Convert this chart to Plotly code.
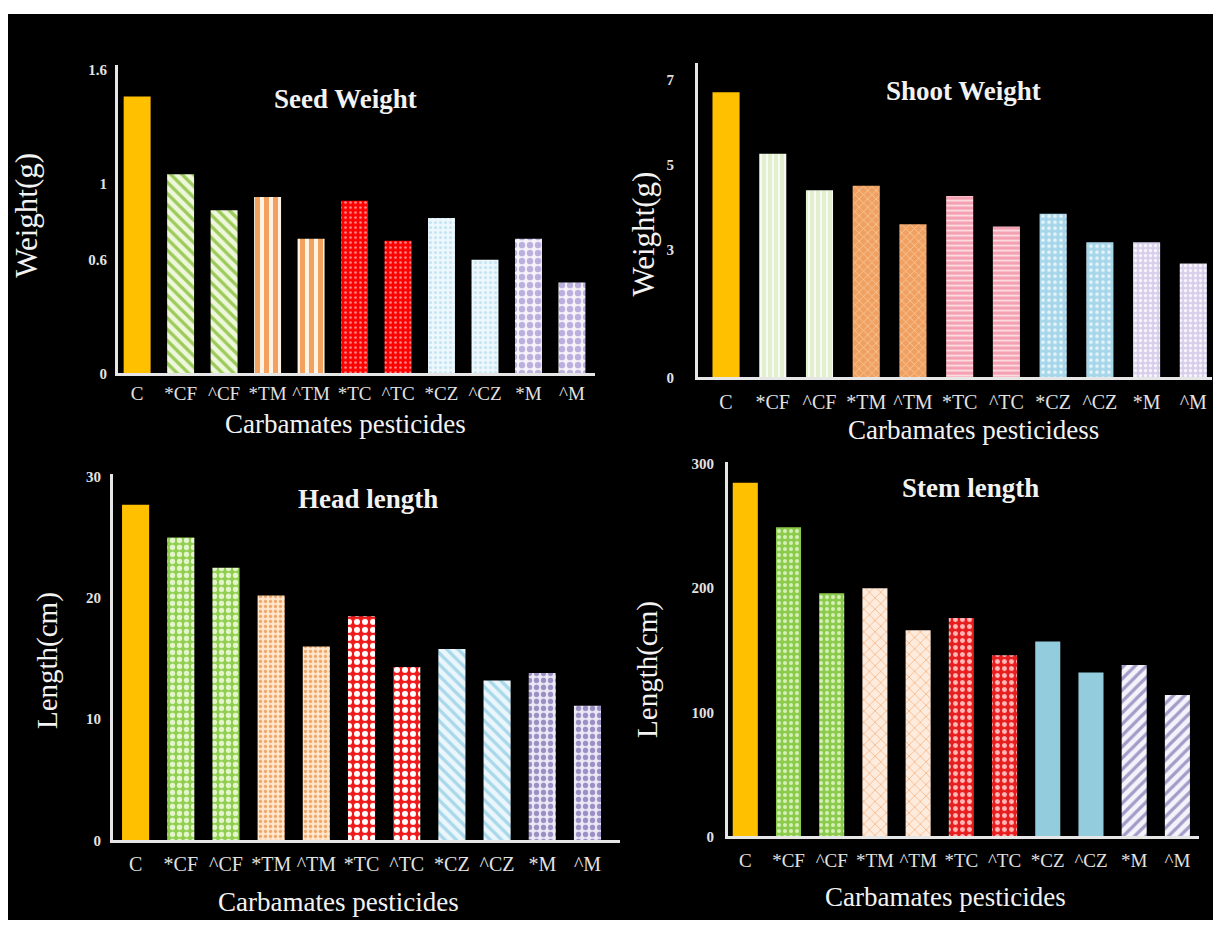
import plotly.graph_objects as go

# ---- data -------------------------------------------------------------
categories = ["C", "*CF", "^CF", "*TM", "^TM", "*TC", "^TC", "*CZ", "^CZ", "*M", "^M"]

seed_weight = [1.46, 1.05, 0.86, 0.93, 0.71, 0.91, 0.70, 0.82, 0.60, 0.71, 0.48]
shoot_weight = [6.71, 5.26, 4.40, 4.51, 3.60, 4.27, 3.55, 3.85, 3.18, 3.18, 2.68]
head_length = [27.7, 25.0, 22.5, 20.2, 16.0, 18.5, 14.3, 15.8, 13.2, 13.8, 11.1]
stem_length = [285, 249, 196, 200, 166, 176, 146, 157, 132, 138, 114]

seed_ticks = [0, 0.6, 1, 1.6]
shoot_ticks = [0, 3, 5, 7]
head_ticks = [0, 10, 20, 30]
stem_ticks = [0, 100, 200, 300]

# ---- canvas -----------------------------------------------------------
W, H = 1220, 936
SERIF = "Liberation Serif, Times New Roman, serif"
GOLD = "#FFC000"

# bar groups: control, then the five pesticide pairs (* and ^)
GROUPS = [[0], [1, 2], [3, 4], [5, 6], [7, 8], [9, 10]]


def fx(p):
    return p / W


def fy(p):
    return 1 - p / H


# pattern style per group: (shape, pattern colour, fill colour, size, solidity)
seed_style = [
    ("", GOLD, GOLD, 6, 0.3),
    ("\\", "#9CCB5A", "#EEF7DC", 8, 0.42),
    ("|", "#F2A25E", "#FFF3E6", 9, 0.55),
    (".", "#FF8A8A", "#FF0000", 5, 0.22),
    (".", "#C4E5F3", "#EEF8FC", 5, 0.3),
    (".", "#BBB0DD", "#F6F3FB", 8, 0.5),
]
shoot_style = [
    ("", GOLD, GOLD, 6, 0.3),
    ("|", "#FFFFFF", "#E2F0D0", 6, 0.25),
    ("x", "#F8CBA0", "#F0A060", 6, 0.25),
    ("-", "#FCE0E6", "#F4A0B2", 5, 0.35),
    (".", "#E6F4FA", "#A6D6EA", 6, 0.3),
    (".", "#F8F6FC", "#D6CEEA", 5, 0.35),
]
head_style = [
    ("", GOLD, GOLD, 6, 0.3),
    (".", "#E4F4CC", "#8FCF4E", 7, 0.45),
    (".", "#F0A868", "#FFE6CC", 5, 0.35),
    (".", "#FFFFFF", "#F01818", 8, 0.45),
    ("\\", "#A8D8EA", "#EAF6FB", 8, 0.4),
    (".", "#9A90C4", "#ECE8F6", 7, 0.45),
]
stem_style = [
    ("", GOLD, GOLD, 6, 0.3),
    (".", "#D8F0B8", "#8ACB4C", 6, 0.35),
    ("x", "#F3A66A", "#FDEBDD", 8, 0.15),
    (".", "#FFB8B8", "#E81E1E", 7, 0.4),
    ("", "#93CDDD", "#93CDDD", 6, 0.3),
    ("/", "#A49CC8", "#F4F2FA", 8, 0.4),
]

# panel geometry in pixels
panels = [
    dict(vals=seed_weight, ticks=seed_ticks, style=seed_style, bw=0.62,
         xd=(118, 595), yd=(373, 60), xr=(-0.44, 10.53), ytop=1.626,
         ystand=5, xstand=1, xfs=19, title="Seed Weight", tpos=(345, 94),
         ytitle="Weight(g)", ytpos=(27, 213), yfs=31,
         xtitle="Carbamates pesticides", xtpos=(345, 424)),
    dict(vals=shoot_weight, ticks=shoot_ticks, style=shoot_style, bw=0.58,
         xd=(698, 1212), yd=(377, 58), xr=(-0.6, 10.4), ytop=7.394,
         ystand=18, xstand=5, xfs=20, title="Shoot Weight", tpos=(963, 86),
         ytitle="Weight(g)", ytpos=(644, 232), yfs=31,
         xtitle="Carbamates pesticidess", xtpos=(973, 430)),
    dict(vals=head_length, ticks=head_ticks, style=head_style, bw=0.60,
         xd=(113, 620), yd=(847, 475), xr=(-0.5, 10.72), ytop=30.24,
         ystand=6, xstand=4, xfs=20, title="Head length", tpos=(368, 500),
         ytitle="Length(cm)", ytpos=(47, 665), yfs=29,
         xtitle="Carbamates pesticides", xtpos=(338, 910)),
    dict(vals=stem_length, ticks=stem_ticks, style=stem_style, bw=0.58,
         xd=(728, 1199), yd=(843, 463), xr=(-0.4, 10.5), ytop=301.6,
         ystand=8, xstand=5, xfs=19, title="Stem length", tpos=(970, 489),
         ytitle="Length(cm)", ytpos=(648, 673), yfs=29,
         xtitle="Carbamates pesticides", xtpos=(945, 905)),
]

fig = go.Figure()
annotations = []
layout = {}

for i, p in enumerate(panels, start=1):
    sfx = "" if i == 1 else str(i)
    for idx, (shape, fg, bg, size, solid) in zip(GROUPS, p["style"]):
        fig.add_trace(go.Bar(
            x=[categories[k] for k in idx],
            y=[p["vals"][k] for k in idx],
            xaxis="x" + sfx, yaxis="y" + sfx,
            width=p["bw"],
            marker=dict(
                color=bg,
                line=dict(width=0),
                pattern=dict(shape=shape, fgcolor=fg, size=size,
                             solidity=solid, fillmode="overlay", fgopacity=1),
            ),
            showlegend=False,
            hoverinfo="x+y",
        ))
    layout["xaxis" + sfx] = dict(
        domain=[fx(p["xd"][0]), fx(p["xd"][1])],
        anchor="y" + sfx, type="category", range=list(p["xr"]),
        categoryorder="array", categoryarray=categories,
        showline=True, linecolor="#E6E6E6", linewidth=3,
        showgrid=False, zeroline=False, ticks="", tickangle=0,
        tickfont=dict(family=SERIF, size=p["xfs"], color="#E2E2E2"),
        ticklabelstandoff=p["xstand"],
    )
    layout["yaxis" + sfx] = dict(
        domain=[fy(p["yd"][0]), fy(p["yd"][1])],
        anchor="x" + sfx, range=[0, p["ytop"]],
        showline=True, linecolor="#E6E6E6", linewidth=3,
        showgrid=False, zeroline=False, ticks="",
        tickvals=p["ticks"],
        tickfont=dict(family=SERIF, size=15, color="#E2E2E2", weight="bold"),
        ticklabelstandoff=p["ystand"],
    )
    annotations += [
        dict(text=p["title"], x=fx(p["tpos"][0]), y=fy(p["tpos"][1]),
             xref="paper", yref="paper", showarrow=False,
             xanchor="center", yanchor="middle",
             font=dict(family=SERIF, size=27, color="#F2F2F2", weight="bold")),
        dict(text=p["ytitle"], x=fx(p["ytpos"][0]), y=fy(p["ytpos"][1]),
             xref="paper", yref="paper", showarrow=False, textangle=-90,
             xanchor="center", yanchor="middle",
             font=dict(family=SERIF, size=p["yfs"], color="#F2F2F2")),
        dict(text=p["xtitle"], x=fx(p["xtpos"][0]), y=fy(p["xtpos"][1]),
             xref="paper", yref="paper", showarrow=False,
             xanchor="center", yanchor="middle",
             font=dict(family=SERIF, size=27, color="#F2F2F2")),
    ]

fig.update_layout(
    width=W, height=H,
    margin=dict(l=0, r=0, t=0, b=0),
    paper_bgcolor="white",
    plot_bgcolor="rgba(0,0,0,0)",
    barmode="overlay",
    annotations=annotations,
    shapes=[dict(type="rect", xref="paper", yref="paper",
                 x0=fx(8), x1=fx(1213), y0=fy(928), y1=fy(8),
                 fillcolor="black", line=dict(width=0), layer="below")],
    **layout,
)

fig.write_html("out.html")
